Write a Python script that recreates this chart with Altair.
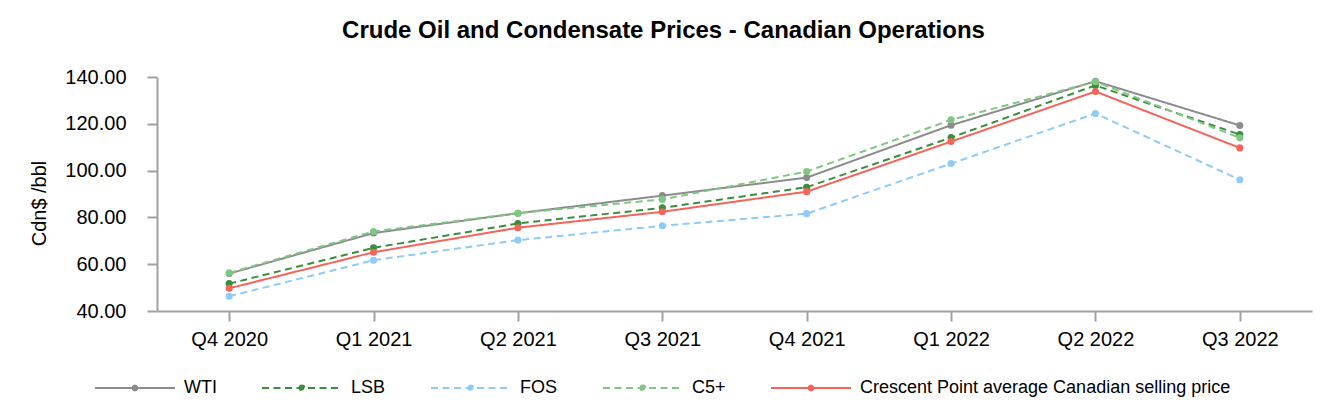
import altair as alt
import pandas as pd

quarters = ["Q4 2020", "Q1 2021", "Q2 2021", "Q3 2021", "Q4 2021", "Q1 2022", "Q2 2022", "Q3 2022"]
series_names = ["WTI", "LSB", "FOS", "C5+", "Crescent Point average Canadian selling price"]
wti = [56.0, 73.3, 81.8, 89.3, 97.0, 119.4, 138.2, 119.3]
lsb = [51.7, 67.0, 77.4, 84.1, 92.9, 114.1, 136.4, 115.4]
fos = [46.3, 61.7, 70.3, 76.4, 81.6, 103.0, 124.4, 96.1]
c5 = [56.3, 74.0, 81.8, 87.7, 99.6, 121.7, 138.0, 114.0]
cpg = [49.7, 65.1, 75.6, 82.4, 91.0, 112.4, 133.8, 109.7]
colors = ["#8c8c8c", "#388e3c", "#8ecbf9", "#81c784", "#f4645a"]
dashes = [[1, 0], [7, 4.5], [7, 4.5], [7, 4.5], [1, 0]]

rows = []
for name, vals in zip(series_names, [wti, lsb, fos, c5, cpg]):
    for q, v in zip(quarters, vals):
        rows.append({"quarter": q, "series": name, "value": v})
df = pd.DataFrame(rows)

FONT = "Liberation Sans"
legend_path = ("M-1,0H1M-0.06,0A0.06,0.06,0,1,1,0.06,0"
               "A0.06,0.06,0,1,1,-0.06,0Z")

color = alt.Color(
    "series:N",
    scale=alt.Scale(domain=series_names, range=colors),
    sort=series_names,
    legend=alt.Legend(
        title=None,
        orient="none",
        direction="horizontal",
        columns=5,
        legendX=-63,
        legendY=270,
        padding=0,
        symbolType=legend_path,
        symbolSize=6400,
        symbolStrokeWidth=2,
        labelOffset=8,
        columnPadding=41,
        labelFont=FONT,
        labelFontSize=18,
        labelColor="#000000",
        labelLimit=600,
    ),
)
dash = alt.StrokeDash(
    "series:N",
    scale=alt.Scale(domain=series_names, range=dashes),
    sort=series_names,
    legend=None,
)

chart = (
    alt.Chart(df)
    .mark_line(strokeWidth=2, point=alt.OverlayMarkDef(filled=True, size=50, opacity=1))
    .encode(
        x=alt.X(
            "quarter:N",
            sort=quarters,
            scale=alt.Scale(type="point", padding=0.5),
            axis=alt.Axis(
                title=None, labelAngle=0, labelFont=FONT, labelFontSize=20,
                labelColor="#000000", labelPadding=8, tickSize=10,
                domainColor="#a0a0a0", tickColor="#a0a0a0",
                domainWidth=2, tickWidth=2, grid=False,
            ),
        ),
        y=alt.Y(
            "value:Q",
            scale=alt.Scale(domain=[40, 140], nice=False, zero=False),
            axis=alt.Axis(
                title="Cdn$ /bbl", values=[40, 60, 80, 100, 120, 140], format=".2f",
                labelFont=FONT, labelFontSize=20, labelColor="#000000",
                labelPadding=21, tickSize=10,
                domainColor="#a0a0a0", tickColor="#a0a0a0",
                domainWidth=2, tickWidth=2, grid=False,
                titleFont=FONT, titleFontSize=20, titleFontWeight="normal",
                titleColor="#000000", titleAngle=270, titleBaseline="alphabetic",
                titleAlign="center", titleX=-112, titleY=126,
            ),
        ),
        color=color,
        strokeDash=dash,
    )
    .properties(
        width=1155,
        height=234,
        background="white",
        view=alt.ViewBackground(stroke="transparent", strokeWidth=0),
        padding={"left": 149, "top": 69, "right": 12, "bottom": 100},
        autosize=alt.AutoSizeParams(type="none"),
        title=alt.TitleParams(
            "Crude Oil and Condensate Prices - Canadian Operations",
            font=FONT, fontSize=24, fontWeight="bold", color="#000000",
            anchor="middle", dx=-71, baseline="alphabetic", offset=5,
        ),
    )
    .configure_view(stroke="transparent", strokeWidth=0)
)

chart.save("out.html", embed_options={"renderer": "svg", "actions": False})
